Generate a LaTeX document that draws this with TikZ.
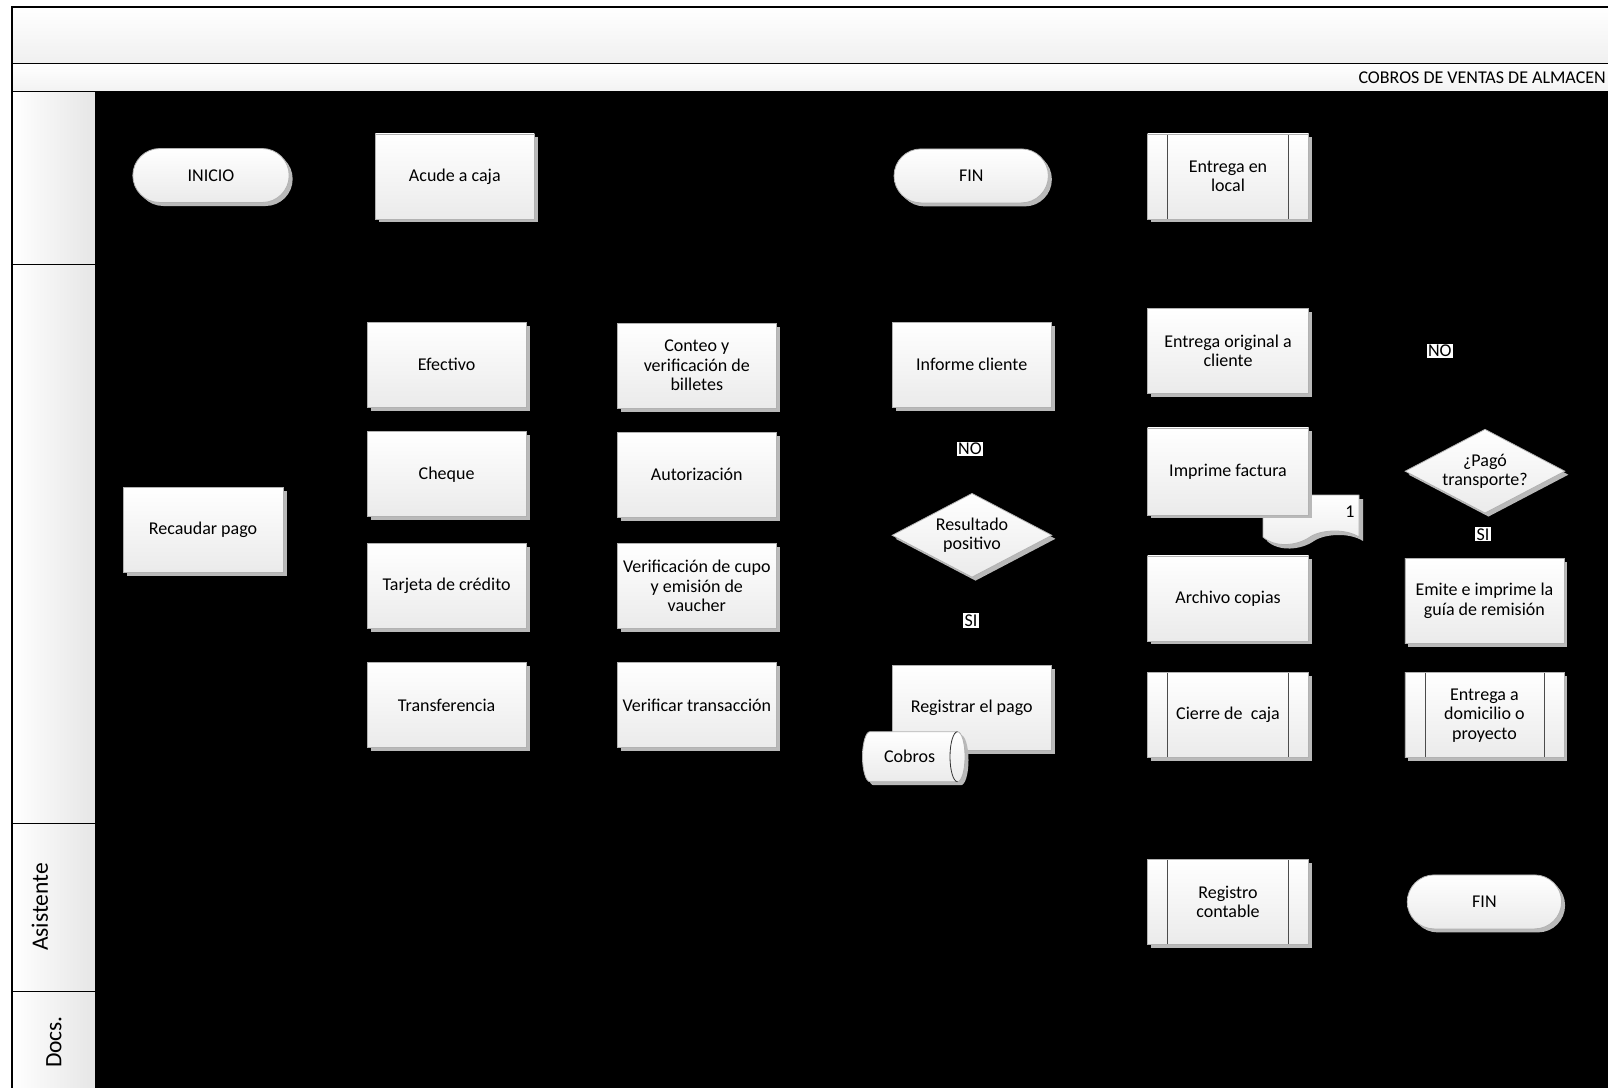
\documentclass[tikz,border=0pt]{standalone}
\usepackage{fontspec}
\setmainfont{Carlito}
\usetikzlibrary{shapes.geometric,shapes.misc,shadows,backgrounds,calc}

\tikzset{
  txt/.style={font=\fontsize{18}{19.5}\selectfont},
  shade box/.style={top color=white, bottom color=gray!16},
  shadowed/.style={drop shadow={shadow xshift=3.5pt, shadow yshift=-3.5pt, fill=gray!55, opacity=1}},
  proc/.style={rectangle, draw=gray!60, line width=0.8pt, shade box, shadowed,
    minimum width=159pt, minimum height=85pt, align=center, inner sep=1pt, txt},
  wideproc/.style={proc, minimum width=161pt},
  predef/.style={wideproc, path picture={
    \draw[gray!60!black, line width=0.8pt]
      ([xshift=20pt]path picture bounding box.north west) -- ([xshift=20pt]path picture bounding box.south west)
      ([xshift=-20pt]path picture bounding box.north east) -- ([xshift=-20pt]path picture bounding box.south east);}},
  term/.style={rounded rectangle, draw=gray!60, line width=0.8pt, shade box, shadowed,
    minimum width=163pt, minimum height=54pt, align=center, txt},
  decision/.style={diamond, aspect=1.9, draw=gray!60, line width=0.8pt, shade box, shadowed,
    minimum width=160pt, minimum height=84pt, inner sep=0pt, align=center, txt},
  flag/.style={fill=white, inner sep=1.2pt, txt},
  cell/.style={draw=black, line width=1.2pt, left color=white, right color=gray!20},
  lanetxt/.style={rotate=90, font=\fontsize{23.5}{28}\selectfont},
  flow/.style={draw=black, line width=1pt, -stealth},
}

\begin{document}
\begin{tikzpicture}[x=1pt,y=-1pt]
\useasboundingbox (0,0) rectangle (1608,1087);
\clip (0,0) rectangle (1608,1087);

% ---- header text and lane names
\node[anchor=east, inner sep=0pt, txt] (titulo) at (1606,78) {COBROS DE VENTAS DE ALMACEN};
\node[lanetxt] (asis) at (40,907) {Asistente};
\node[lanetxt] (docs) at (54,1042) {Docs.};

% ---- first row
\node[term] (inicio) at (211,175.5) {INICIO};
\node[proc] (acude) at (454.8,176.4) {Acude a caja};
\node[term, minimum width=161pt] (fin1) at (971.2,175.9) {FIN};
\node[predef] (local) at (1228,176.4) {Entrega en\\local};

% ---- payment forms
\node[proc, minimum width=160pt] (recaudar) at (203,529.7) {Recaudar pago};
\node[proc] (efectivo) at (446.6,364.6) {Efectivo};
\node[proc] (cheque) at (446.6,474.3) {Cheque};
\node[proc] (tarjeta) at (446.6,586.1) {Tarjeta de crédito};
\node[proc] (transf) at (446.6,705) {Transferencia};

\node[proc] (conteo) at (696.8,365.6) {Conteo y\\verificación de\\billetes};
\node[proc] (autoriz) at (696.8,474.8) {Autorización};
\node[proc] (cupo) at (696.8,586.1) {Verificación de cupo\\y emisión de\\vaucher};
\node[proc] (vertrans) at (696.8,705) {Verificar transacción};

% ---- result check
\node[proc] (informe) at (971.7,364.6) {Informe cliente};
\node[flag] (no1) at (970,449) {NO};
\node[decision] (resultado) at (972,535.3) {Resultado\\positivo};
\node[flag] (si1) at (971,620.4) {SI};
\node[proc] (registrar) at (971.7,707.6) {Registrar el pago};

% payment store drawn as a horizontal drum
\fill[gray!55] (873.5,735.2) -- (961,735.2) arc[start angle=-90, end angle=90, x radius=7.5, y radius=25]
  -- (873.5,785.2) arc[start angle=90, end angle=270, x radius=7.5, y radius=25] -- cycle;
\draw[draw=gray!60, line width=0.8pt, top color=white, bottom color=gray!16]
  (870,731.7) -- (957.5,731.7) arc[start angle=-90, end angle=90, x radius=7.5, y radius=25]
  -- (870,781.7) arc[start angle=90, end angle=270, x radius=7.5, y radius=25] -- cycle;
\draw[gray!40!black, line width=0.8pt] (957.5,731.7) arc[start angle=270, end angle=90, x radius=7.5, y radius=25];
\node[txt, inner sep=1pt] (cobros) at (909.6,756.8) {Cobros};

% ---- invoice column
\node[wideproc] (original) at (1228,350.7) {Entrega original a\\cliente};
% printed document behind the invoice box
\fill[gray!55] (1267,499) -- (1363,499) -- (1363,541)
  .. controls (1349,532) and (1324,534) .. (1314,541)
  .. controls (1301,550) and (1279,552) .. (1267,541) -- cycle;
\draw[draw=gray!60, line width=0.8pt, top color=white, bottom color=gray!16]
  (1263,495) -- (1359,495) -- (1359,537)
  .. controls (1345,528) and (1320,530) .. (1310,537)
  .. controls (1297,546) and (1275,548) .. (1263,537) -- cycle;
\node[txt, inner sep=0pt] (uno) at (1350,512) {1};
\node[wideproc, minimum height=87pt] (imprime) at (1228,471.4) {Imprime factura};
\node[wideproc] (archivo) at (1228,598.4) {Archivo copias};
\node[predef] (cierre) at (1228,714.8) {Cierre de~\ caja};
\node[predef] (registro) at (1228,901.9) {Registro\\contable};

% ---- transport column
\node[flag] (no2) at (1439.8,350.7) {NO};
\node[decision] (pago) at (1485,471.2) {¿Pagó\\transporte?};
\node[flag] (si2) at (1482.9,534.3) {SI};
\node[proc] (emite) at (1484.4,601) {Emite e imprime la\\guía de remisión};
\node[predef, minimum width=159pt] (domicilio) at (1484.4,715.3) {Entrega a\\domicilio o\\proyecto};
\node[term, minimum width=161pt] (fin2) at (1484.4,901.9) {FIN};

\begin{scope}[on background layer]
  % frame, bands and lane cells
  \fill[white] (0,0) rectangle (1608,1087);
  \draw[line width=1.8pt, top color=white, bottom color=gray!12] (12,7) rectangle (1650,63.5);
  \draw[line width=1.2pt, top color=white, bottom color=gray!10] (12,63.5) rectangle (1650,91.5);
  \fill[black] (96,91.5) rectangle (1650,1100);
  \draw[cell] (12,91.5) rectangle (96,264.6);
  \draw[cell] (12,264.6) rectangle (96,823.5);
  \draw[cell] (12,823.5) rectangle (96,991.7);
  \draw[cell] (12,991.7) rectangle (96,1110);

  % flow connectors
  \draw[flow] (inicio) -- (acude);
  \draw[flow] (acude.south) -- ++(0,40) -| (recaudar.north);
  \foreach \f/\v in {efectivo/conteo, cheque/autoriz, tarjeta/cupo, transf/vertrans}{
    \draw[flow] (recaudar.east) -- ++(20,0) |- (\f.west);
    \draw[flow] (\f) -- (\v);
    \draw[flow] (\v.east) -- ++(28,0) |- (resultado.west);
  }
  \draw[flow] (resultado) -- (no1) -- (informe);
  \draw[flow] (informe) -- (fin1);
  \draw[flow] (resultado) -- (si1) -- (registrar);
  \draw[flow] (registrar.east) -- ++(30,0) |- (imprime.west);
  \draw[flow] (imprime) -- (original);
  \draw[flow] (imprime) -- (archivo);
  \draw[flow] (archivo) -- (cierre);
  \draw[flow] (cierre) -- (registro);
  \draw[flow] (original.east) -- ++(60,0) |- (pago.west);
  \draw[flow] (pago.north) -- (no2.south -| pago.north) |- (local.east);
  \draw[flow] (pago) -- (si2) -- (emite);
  \draw[flow] (emite) -- (domicilio);
  \draw[flow] (domicilio) -- (fin2);
\end{scope}
\end{tikzpicture}
\end{document}
